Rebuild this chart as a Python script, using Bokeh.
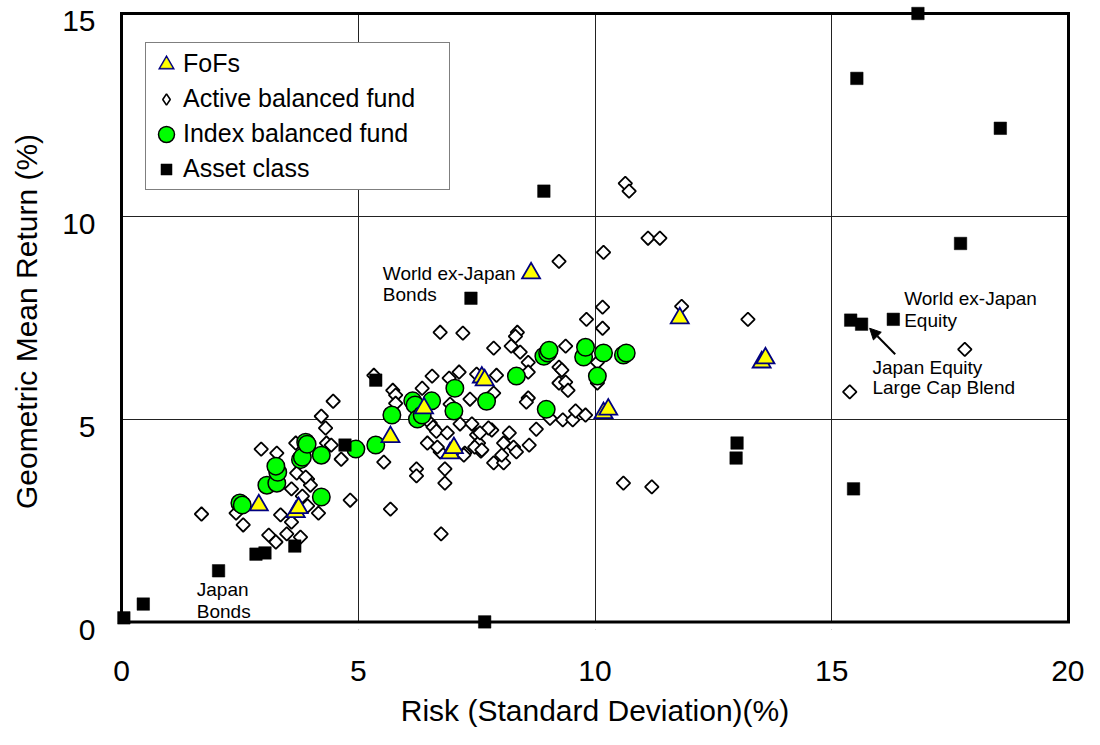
import math
from bokeh.plotting import figure
from bokeh.models import (Range1d, FixedTicker, Legend, LegendItem, Arrow,
                          NormalHead, Label, LinearAxis, Grid)
from bokeh.embed import file_html
from bokeh.resources import INLINE

FONT = "Liberation Sans"

# ---------------- data (risk %, return %) ----------------
fofs_risk = [2.90, 3.68, 3.74, 5.68, 6.39, 6.94, 7.02, 7.61, 7.67, 8.65,
             10.18, 10.28, 11.79, 13.52, 13.60]
fofs_ret = [2.88, 2.71, 2.81, 4.56, 5.27, 4.16, 4.29, 6.03, 5.96, 8.60,
            5.15, 5.24, 7.49, 6.40, 6.50]

index_risk = [2.50, 2.55, 3.07, 3.28, 3.30, 3.26, 3.78, 3.82, 3.89, 3.92,
              4.22, 4.22, 4.95, 5.37, 5.71, 6.15, 6.20, 6.25, 6.35, 6.55,
              7.04, 7.02, 7.71, 8.34, 8.92, 9.00, 9.03, 8.97, 9.76, 9.80,
              10.18, 10.05, 10.60, 10.66]
index_ret = [2.93, 2.88, 3.37, 3.42, 3.69, 3.84, 4.00, 4.06, 4.43, 4.38,
             4.11, 3.08, 4.26, 4.36, 5.10, 5.45, 5.35, 5.00, 5.10, 5.45,
             5.76, 5.20, 5.44, 6.06, 6.55, 6.63, 6.70, 5.24, 6.53, 6.77,
             6.63, 6.06, 6.58, 6.63]

active_risk = [1.69, 2.42, 2.57, 2.95, 3.28, 3.36, 3.59, 3.11, 3.26, 3.49,
               3.78, 3.59, 3.70, 3.93, 3.99, 3.93, 4.16, 3.68, 4.33, 4.22,
               4.31, 4.47, 4.43, 4.64, 4.83, 3.82, 3.89,
               5.33, 5.73, 5.79, 5.79, 5.54, 5.68, 6.73, 7.21, 6.56, 6.92,
               6.35, 7.13, 7.86, 6.94, 7.15, 6.52, 6.58, 6.65, 6.46, 6.88,
               6.73, 6.83, 6.23, 6.23, 6.83, 6.75, 7.50, 7.54, 7.59, 7.86,
               7.82, 7.46, 7.25, 8.36, 8.32, 8.23, 8.42, 8.59, 8.59, 9.24,
               9.30, 7.50, 7.92, 7.36, 7.86, 9.24, 9.38, 9.43, 8.59, 8.55,
               7.40, 7.75, 7.57, 7.61, 7.23, 8.19, 8.28, 8.34, 8.07, 8.61,
               8.76, 9.05, 9.32, 9.53, 9.59, 9.80, 8.07, 6.67, 8.03,
               11.12, 11.37, 10.18, 9.24, 10.16, 9.82, 10.16, 11.83, 13.23,
               10.64, 10.72, 9.38, 10.05, 10.05,
               10.60, 11.20, 15.38, 17.81]
active_ret = [2.66, 2.68, 2.39, 4.26, 4.16, 2.64, 3.28, 2.14, 1.97, 2.17,
              2.09, 2.46, 3.67, 3.52, 3.37, 2.86, 2.68, 4.41, 4.41, 5.07,
              4.78, 5.44, 4.36, 4.01, 3.00, 3.10, 3.57,
              6.08, 5.71, 5.59, 5.39, 3.94, 2.78, 7.14, 7.12, 6.06, 6.01,
              5.76, 6.16, 6.75, 5.37, 4.88, 4.90, 4.80, 4.70, 4.41, 4.66,
              4.19, 3.77, 3.77, 3.60, 3.42, 2.17, 4.61, 4.41, 4.21, 3.92,
              4.73, 4.31, 4.16, 7.14, 7.04, 6.80, 6.65, 6.40, 6.16, 6.28,
              6.21, 6.11, 6.08, 5.49, 5.64, 5.89, 5.91, 5.71, 5.52, 5.42,
              4.88, 4.78, 4.66, 4.24, 4.11, 4.66, 4.31, 4.19, 4.41, 4.36,
              4.75, 5.02, 4.98, 4.98, 5.20, 5.10, 3.92, 4.31, 4.11,
              9.46, 9.46, 9.11, 8.89, 7.76, 7.46, 7.24, 7.78, 7.46,
              10.81, 10.62, 6.80, 6.40, 5.89,
              3.42, 3.33, 5.67, 6.72]

asset_risk = [0.05, 0.46, 2.05, 2.84, 3.03, 3.66, 4.72, 5.37, 7.38, 7.67,
              8.92, 12.98, 13.00, 16.82, 15.53, 18.56, 17.72, 15.40, 15.63,
              16.30, 15.46]
asset_ret = [0.10, 0.44, 1.26, 1.67, 1.70, 1.87, 4.36, 5.96, 7.98, 0.00,
             10.62, 4.04, 4.41, 15.00, 13.40, 12.17, 9.33, 7.44, 7.34,
             7.46, 3.28]

x_ticks = [0, 5, 10, 15, 20]
y_ticks = [0, 5, 10, 15]
series_labels = ["FoFs", "Active balanced fund", "Index balanced fund", "Asset class"]

# y tick labels sit a little below their ticks in the original; the drawing
# area is extended by this much below 0 so that the "0" label has room
LABEL_SHIFT = 0.1875

# ---------------- figure ----------------
p = figure(width=1084, height=729, x_range=Range1d(x_ticks[0], x_ticks[-1]),
           y_range=Range1d(y_ticks[0] - LABEL_SHIFT, y_ticks[-1]),
           output_backend="svg", toolbar_location=None, y_axis_location=None,
           min_border_left=121, min_border_right=16, min_border_top=13,
           min_border_bottom=99)
p.background_fill_color = "white"
p.border_fill_color = "white"
p.outline_line_color = None
for g in p.ygrid:
    g.visible = False

p.extra_y_ranges = {"lab": Range1d(y_ticks[0], y_ticks[-1] + LABEL_SHIFT)}
yax = LinearAxis(y_range_name="lab", ticker=FixedTicker(ticks=y_ticks))
p.add_layout(yax, "left")

p.xaxis.ticker = FixedTicker(ticks=x_ticks)
for ax in (p.xaxis[0], yax):
    ax.axis_line_color = None
    ax.major_tick_line_color = None
    ax.minor_tick_line_color = None
    ax.major_label_text_font = FONT
    ax.major_label_text_font_size = "30px"
    ax.major_label_text_color = "black"
    ax.axis_label_text_font = FONT
    ax.axis_label_text_font_size = "30px"
    ax.axis_label_text_font_style = "normal"
    ax.axis_label_text_color = "black"
p.xaxis.axis_label = "Risk (Standard Deviation)(%)"
yax.axis_label = "Geometric Mean Return (%)"
p.xaxis.major_label_standoff = 25
p.xaxis.axis_label_standoff = 10
yax.major_label_standoff = 20
yax.axis_label_standoff = 16

p.xgrid.ticker = FixedTicker(ticks=x_ticks)
p.xgrid.grid_line_color = "#222222"
p.xgrid.grid_line_width = 1
p.add_layout(Grid(dimension=1, ticker=FixedTicker(ticks=y_ticks),
                  grid_line_color="#222222", grid_line_width=1))

# white strip under y=0 and the heavy plot frame
p.quad(left=[x_ticks[0]], right=[x_ticks[-1]], bottom=[y_ticks[0] - LABEL_SHIFT],
       top=[y_ticks[0]], fill_color="white", line_color=None)
p.quad(left=[x_ticks[0]], right=[x_ticks[-1]], bottom=[y_ticks[0]], top=[y_ticks[-1]],
       fill_color=None, line_color="black", line_width=3, line_join="miter",
       level="guide")

# ---------------- data glyphs ----------------
p.scatter(active_risk, active_ret, marker="square", angle=math.pi / 4, size=9.6,
          fill_color="white", line_color="black", line_width=1.8)
p.scatter(asset_risk, asset_ret, marker="square", size=12.5,
          fill_color="black", line_color="black", line_width=0.5, level="overlay")
p.scatter(index_risk, index_ret, marker="circle", size=17.5,
          fill_color="#00FF00", line_color="black", line_width=1.5)
p.scatter(fofs_risk, fofs_ret, marker="triangle", size=18,
          fill_color="#FFFF00", line_color="#000080", line_width=1.8,
          line_join="miter")

# ---------------- legend (placeholder renderers draw the legend glyphs) ----------------
nan = [float("nan")]
lg_fofs_a = p.scatter(nan, nan, marker="triangle", fill_color="#000080",
                      line_color="#000080", line_width=3.4, line_join="miter")
lg_fofs_b = p.scatter(nan, nan, marker="triangle", fill_color="#FFFF00",
                      line_color="#FFFF00", line_width=0.5, line_join="miter")
lg_act = p.scatter(nan, nan, marker="diamond", fill_color="white",
                   line_color="black", line_width=1.6)
lg_idx_a = p.scatter(nan, nan, marker="circle", fill_color="black",
                     line_color="black", line_width=6.3)
lg_idx_b = p.scatter(nan, nan, marker="circle", fill_color="#00FF00",
                     line_color="#00FF00", line_width=3.3)
lg_ast = p.scatter(nan, nan, marker="square", fill_color="black",
                   line_color="black", line_width=0.3)

legend = Legend(items=[LegendItem(label=series_labels[0], renderers=[lg_fofs_a, lg_fofs_b]),
                       LegendItem(label=series_labels[1], renderers=[lg_act]),
                       LegendItem(label=series_labels[2], renderers=[lg_idx_a, lg_idx_b]),
                       LegendItem(label=series_labels[3], renderers=[lg_ast])],
                location=(24, 439), margin=0, padding=3, spacing=0,
                glyph_width=34, glyph_height=28, label_height=35,
                label_width=263, label_standoff=0,
                label_text_font=FONT, label_text_font_size="25px",
                label_text_color="black",
                border_line_color="black", border_line_width=1,
                background_fill_color="white", background_fill_alpha=1)
p.add_layout(legend)

# ---------------- annotations ----------------
def add_label(x, y, txt):
    p.add_layout(Label(x=x, y=y, text=txt, text_font=FONT, text_font_size="19px",
                       text_color="black", text_baseline="alphabetic"))

add_label(5.52, 8.60, "World ex-Japan")
add_label(5.52, 8.06, "Bonds")
add_label(1.59, 0.79, "Japan")
add_label(1.59, 0.25, "Bonds")
add_label(16.53, 7.98, "World ex-Japan")
add_label(16.53, 7.42, "Equity")
add_label(15.86, 6.28, "Japan Equity")
add_label(15.86, 5.77, "Large Cap Blend")

p.add_layout(Arrow(end=NormalHead(size=11, fill_color="black", line_color="black"),
                   x_start=16.34, y_start=6.60, x_end=15.80, y_end=7.24,
                   line_color="black", line_width=2))

open("out.html", "w").write(file_html(p, INLINE))
